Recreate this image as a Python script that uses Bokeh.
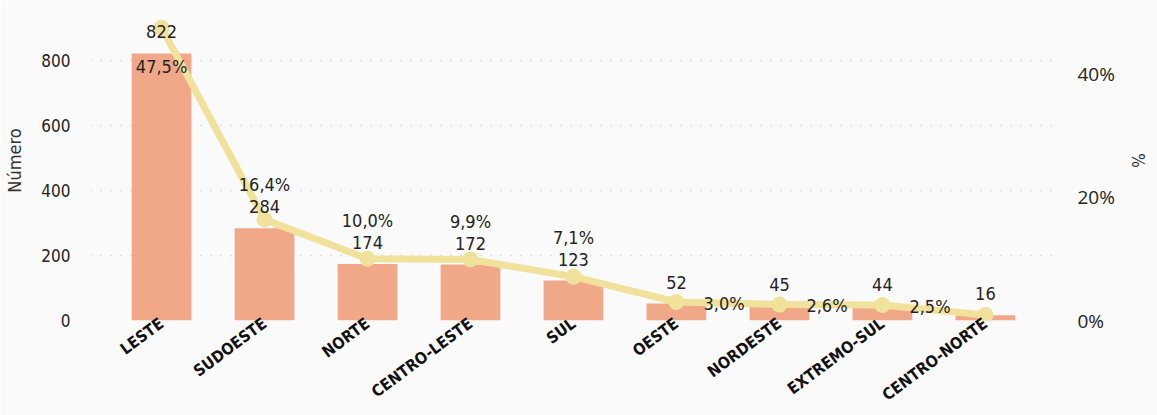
from bokeh.plotting import figure
from bokeh.models import Range1d, LinearAxis, FixedTicker
from bokeh.core.properties import value
from bokeh.embed import file_html
from bokeh.resources import INLINE

# ---- data ----
regions = ["LESTE", "SUDOESTE", "NORTE", "CENTRO-LESTE", "SUL", "OESTE",
           "NORDESTE", "EXTREMO-SUL", "CENTRO-NORTE"]
counts = [822, 284, 174, 172, 123, 52, 45, 44, 16]
percents = [47.5, 16.4, 10.0, 9.9, 7.1, 3.0, 2.6, 2.5, 0.9]
left_ticks = [0, 200, 400, 600, 800]
right_ticks = [0, 20, 40]

# label placement of the percentage labels (style, not data)
pct_place = ["below", "above", "above", "above", "above", "right", "right", "right", None]

BAR = "#F0A888"
LINE = "#F0E29A"
TXT = "#252423"
BG = "#FAFAFA"
FONT = "DejaVu Sans Condensed"

xs = list(range(len(regions)))

p = figure(x_range=Range1d(-0.69, len(regions) - 0.29),
           y_range=Range1d(0, 985), width=1157, height=415,
           output_backend="svg", toolbar_location=None,
           min_border_left=90, min_border_right=99, min_border_top=0, min_border_bottom=95)
p.extra_y_ranges = {"pct": Range1d(0, 51.9)}

p.background_fill_color = BG
p.border_fill_color = BG
p.outline_line_color = None

p.vbar(x=xs, top=counts, width=0.58, color=BAR, line_color=None)
p.line(x=xs, y=percents, y_range_name="pct", line_color=LINE, line_width=7,
       line_join="round")
p.scatter(x=xs, y=percents, y_range_name="pct", size=16, fill_color=LINE,
          line_color=None)

# count labels above bars
p.text(x=xs, y=counts, text=[str(c) for c in counts], y_offset=-15,
       text_align="center", text_baseline="bottom", text_font=value(FONT),
       text_font_size="18px", text_color=TXT)

def fmt(v):
    return f"{v:.1f}".replace(".", ",") + "%"

ab = [i for i, s in enumerate(pct_place) if s == "above"]
p.text(x=[xs[i] for i in ab], y=[counts[i] for i in ab],
       text=[fmt(percents[i]) for i in ab], y_offset=-33,
       text_align="center", text_baseline="bottom", text_font=value(FONT),
       text_font_size="18px", text_color=TXT)
be = [i for i, s in enumerate(pct_place) if s == "below"]
p.text(x=[xs[i] for i in be], y=[percents[i] for i in be], y_range_name="pct",
       text=[fmt(percents[i]) for i in be], y_offset=28,
       text_align="center", text_baseline="top", text_font=value(FONT),
       text_font_size="18px", text_color=TXT)
ri = [i for i, s in enumerate(pct_place) if s == "right"]
p.text(x=[xs[i] for i in ri], y=[percents[i] for i in ri], y_range_name="pct",
       text=[fmt(percents[i]) for i in ri], x_offset=27, y_offset=1,
       text_align="left", text_baseline="middle", text_font=value(FONT),
       text_font_size="18px", text_color=TXT)

# axes
p.xgrid.grid_line_color = None
p.ygrid.ticker = FixedTicker(ticks=left_ticks)
p.ygrid.grid_line_color = "#C8C6C4"
p.ygrid.grid_line_dash = "1 9"
p.ygrid.grid_line_width = 1.5

xa = p.xaxis[0]
xa.ticker = FixedTicker(ticks=xs)
xa.major_label_overrides = {i: name for i, name in zip(xs, regions)}
xa.axis_line_color = None
xa.major_tick_line_color = None
xa.minor_tick_line_color = None
xa.major_tick_out = 0
xa.major_tick_in = 0
xa.minor_tick_out = 0
xa.minor_tick_in = 0
xa.major_label_orientation = 0.64
xa.major_label_standoff = 1
xa.major_label_text_font = FONT
xa.major_label_text_font_style = "bold"
xa.major_label_text_font_size = "16px"
xa.major_label_text_color = "#111111"

ya = p.yaxis[0]
ya.ticker = FixedTicker(ticks=left_ticks)
ya.axis_line_color = None
ya.major_tick_line_color = None
ya.minor_tick_line_color = None
ya.major_tick_out = 0
ya.major_tick_in = 0
ya.minor_tick_out = 0
ya.minor_tick_in = 0
ya.major_label_standoff = 20
ya.major_label_text_font = FONT
ya.major_label_text_font_size = "17px"
ya.major_label_text_color = TXT
ya.axis_label = "Número"
ya.axis_label_text_font = FONT
ya.axis_label_text_font_size = "18px"
ya.axis_label_text_font_style = "normal"
ya.axis_label_text_color = "#333333"
ya.axis_label_standoff = 13

ra = LinearAxis(y_range_name="pct", ticker=FixedTicker(ticks=right_ticks),
                major_label_overrides={t: f"{t}%" for t in right_ticks})
ra.axis_line_color = None
ra.major_tick_line_color = None
ra.minor_tick_line_color = None
ra.major_tick_out = 0
ra.major_tick_in = 0
ra.minor_tick_out = 0
ra.minor_tick_in = 0
ra.major_label_standoff = 19
ra.major_label_text_font = "Open Sans"
ra.major_label_text_font_size = "19px"
ra.major_label_text_color = TXT
ra.axis_label = "%"
ra.axis_label_text_font = FONT
ra.axis_label_text_font_size = "17px"
ra.axis_label_text_font_style = "normal"
ra.axis_label_text_color = "#333333"
ra.axis_label_standoff = 10
p.add_layout(ra, "right")

open("out.html", "w").write(file_html(p, INLINE))
